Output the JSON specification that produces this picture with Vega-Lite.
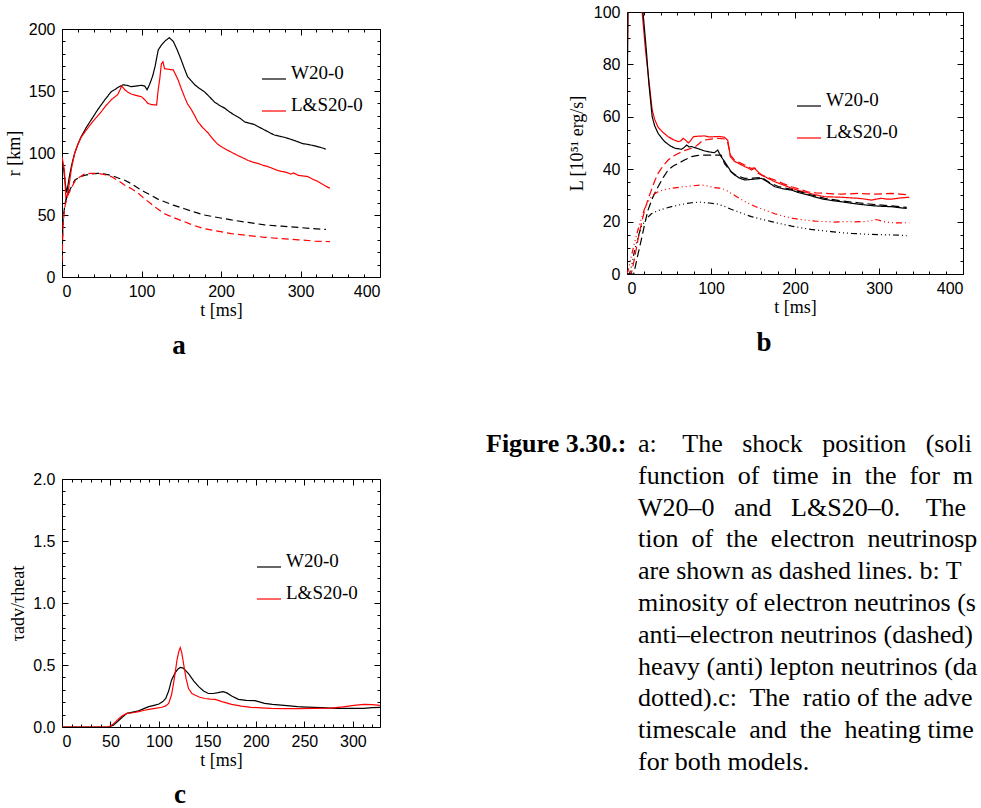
{
  "$schema": "https://vega.github.io/schema/vega-lite/v6.json",
  "padding": {"left": 5, "top": 4, "right": 0, "bottom": 0},
  "background": "white",
  "datasets": {
    "a": [
      {"t":0,"r":90,"model":"W20-0","quantity":"shock"},{"t":2,"r":88,"model":"W20-0","quantity":"shock"},{"t":4,"r":76,"model":"W20-0","quantity":"shock"},{"t":6,"r":68,"model":"W20-0","quantity":"shock"},{"t":9,"r":80,"model":"W20-0","quantity":"shock"},{"t":12,"r":90,"model":"W20-0","quantity":"shock"},{"t":16,"r":100,"model":"W20-0","quantity":"shock"},{"t":20,"r":107,"model":"W20-0","quantity":"shock"},{"t":24,"r":113,"model":"W20-0","quantity":"shock"},{"t":30,"r":120,"model":"W20-0","quantity":"shock"},{"t":37,"r":127,"model":"W20-0","quantity":"shock"},{"t":45,"r":135,"model":"W20-0","quantity":"shock"},{"t":54,"r":143,"model":"W20-0","quantity":"shock"},{"t":62,"r":149.5,"model":"W20-0","quantity":"shock"},{"t":66,"r":151,"model":"W20-0","quantity":"shock"},{"t":72,"r":153.5,"model":"W20-0","quantity":"shock"},{"t":77,"r":155,"model":"W20-0","quantity":"shock"},{"t":82,"r":154.5,"model":"W20-0","quantity":"shock"},{"t":87,"r":153.5,"model":"W20-0","quantity":"shock"},{"t":93,"r":154,"model":"W20-0","quantity":"shock"},{"t":100,"r":154.6,"model":"W20-0","quantity":"shock"},{"t":104,"r":154,"model":"W20-0","quantity":"shock"},{"t":107,"r":151,"model":"W20-0","quantity":"shock"},{"t":110,"r":155,"model":"W20-0","quantity":"shock"},{"t":114,"r":162,"model":"W20-0","quantity":"shock"},{"t":117,"r":169.6,"model":"W20-0","quantity":"shock"},{"t":121,"r":183,"model":"W20-0","quantity":"shock"},{"t":125,"r":187,"model":"W20-0","quantity":"shock"},{"t":129,"r":190,"model":"W20-0","quantity":"shock"},{"t":135,"r":193,"model":"W20-0","quantity":"shock"},{"t":140,"r":190,"model":"W20-0","quantity":"shock"},{"t":145,"r":183,"model":"W20-0","quantity":"shock"},{"t":150,"r":175,"model":"W20-0","quantity":"shock"},{"t":154,"r":168,"model":"W20-0","quantity":"shock"},{"t":158,"r":161.5,"model":"W20-0","quantity":"shock"},{"t":163,"r":158,"model":"W20-0","quantity":"shock"},{"t":167,"r":155,"model":"W20-0","quantity":"shock"},{"t":173,"r":152,"model":"W20-0","quantity":"shock"},{"t":179,"r":149.5,"model":"W20-0","quantity":"shock"},{"t":186,"r":145,"model":"W20-0","quantity":"shock"},{"t":192,"r":141,"model":"W20-0","quantity":"shock"},{"t":198,"r":138.5,"model":"W20-0","quantity":"shock"},{"t":205,"r":136,"model":"W20-0","quantity":"shock"},{"t":211,"r":133,"model":"W20-0","quantity":"shock"},{"t":217,"r":130.6,"model":"W20-0","quantity":"shock"},{"t":224,"r":128,"model":"W20-0","quantity":"shock"},{"t":230,"r":125,"model":"W20-0","quantity":"shock"},{"t":236,"r":124,"model":"W20-0","quantity":"shock"},{"t":242,"r":123,"model":"W20-0","quantity":"shock"},{"t":249,"r":120.5,"model":"W20-0","quantity":"shock"},{"t":255,"r":118.5,"model":"W20-0","quantity":"shock"},{"t":261,"r":116.5,"model":"W20-0","quantity":"shock"},{"t":267,"r":114.5,"model":"W20-0","quantity":"shock"},{"t":274,"r":113.5,"model":"W20-0","quantity":"shock"},{"t":280,"r":112.6,"model":"W20-0","quantity":"shock"},{"t":288,"r":111,"model":"W20-0","quantity":"shock"},{"t":297,"r":109,"model":"W20-0","quantity":"shock"},{"t":303,"r":107.5,"model":"W20-0","quantity":"shock"},{"t":309,"r":107,"model":"W20-0","quantity":"shock"},{"t":316,"r":106,"model":"W20-0","quantity":"shock"},{"t":322,"r":105,"model":"W20-0","quantity":"shock"},{"t":328,"r":104,"model":"W20-0","quantity":"shock"},{"t":332,"r":103,"model":"W20-0","quantity":"shock"},
      {"t":0,"r":97,"model":"L&S20-0","quantity":"shock"},{"t":2,"r":90,"model":"L&S20-0","quantity":"shock"},{"t":3,"r":86,"model":"L&S20-0","quantity":"shock"},{"t":5,"r":62,"model":"L&S20-0","quantity":"shock"},{"t":8,"r":70,"model":"L&S20-0","quantity":"shock"},{"t":12,"r":88,"model":"L&S20-0","quantity":"shock"},{"t":16,"r":100,"model":"L&S20-0","quantity":"shock"},{"t":20,"r":107,"model":"L&S20-0","quantity":"shock"},{"t":24,"r":112.6,"model":"L&S20-0","quantity":"shock"},{"t":30,"r":118,"model":"L&S20-0","quantity":"shock"},{"t":37,"r":124,"model":"L&S20-0","quantity":"shock"},{"t":43,"r":128.5,"model":"L&S20-0","quantity":"shock"},{"t":49,"r":133,"model":"L&S20-0","quantity":"shock"},{"t":55,"r":138,"model":"L&S20-0","quantity":"shock"},{"t":62,"r":143,"model":"L&S20-0","quantity":"shock"},{"t":66,"r":145,"model":"L&S20-0","quantity":"shock"},{"t":70,"r":147,"model":"L&S20-0","quantity":"shock"},{"t":73,"r":151,"model":"L&S20-0","quantity":"shock"},{"t":75,"r":154,"model":"L&S20-0","quantity":"shock"},{"t":79,"r":151,"model":"L&S20-0","quantity":"shock"},{"t":83,"r":149,"model":"L&S20-0","quantity":"shock"},{"t":87,"r":147.6,"model":"L&S20-0","quantity":"shock"},{"t":93,"r":146.5,"model":"L&S20-0","quantity":"shock"},{"t":100,"r":145.4,"model":"L&S20-0","quantity":"shock"},{"t":104,"r":143,"model":"L&S20-0","quantity":"shock"},{"t":108,"r":140,"model":"L&S20-0","quantity":"shock"},{"t":113,"r":139,"model":"L&S20-0","quantity":"shock"},{"t":119,"r":138.7,"model":"L&S20-0","quantity":"shock"},{"t":121,"r":151,"model":"L&S20-0","quantity":"shock"},{"t":123,"r":160,"model":"L&S20-0","quantity":"shock"},{"t":125,"r":172,"model":"L&S20-0","quantity":"shock"},{"t":127,"r":173.6,"model":"L&S20-0","quantity":"shock"},{"t":129,"r":168,"model":"L&S20-0","quantity":"shock"},{"t":134,"r":167.5,"model":"L&S20-0","quantity":"shock"},{"t":140,"r":167,"model":"L&S20-0","quantity":"shock"},{"t":143,"r":163,"model":"L&S20-0","quantity":"shock"},{"t":146,"r":159,"model":"L&S20-0","quantity":"shock"},{"t":150,"r":152,"model":"L&S20-0","quantity":"shock"},{"t":154,"r":145.4,"model":"L&S20-0","quantity":"shock"},{"t":158,"r":139.5,"model":"L&S20-0","quantity":"shock"},{"t":163,"r":134.7,"model":"L&S20-0","quantity":"shock"},{"t":167,"r":130,"model":"L&S20-0","quantity":"shock"},{"t":171,"r":125,"model":"L&S20-0","quantity":"shock"},{"t":177,"r":120.5,"model":"L&S20-0","quantity":"shock"},{"t":184,"r":116,"model":"L&S20-0","quantity":"shock"},{"t":190,"r":111,"model":"L&S20-0","quantity":"shock"},{"t":196,"r":107,"model":"L&S20-0","quantity":"shock"},{"t":202,"r":104.5,"model":"L&S20-0","quantity":"shock"},{"t":209,"r":102,"model":"L&S20-0","quantity":"shock"},{"t":215,"r":100,"model":"L&S20-0","quantity":"shock"},{"t":221,"r":98,"model":"L&S20-0","quantity":"shock"},{"t":228,"r":96,"model":"L&S20-0","quantity":"shock"},{"t":234,"r":94,"model":"L&S20-0","quantity":"shock"},{"t":240,"r":92.7,"model":"L&S20-0","quantity":"shock"},{"t":246,"r":91.7,"model":"L&S20-0","quantity":"shock"},{"t":252,"r":90.3,"model":"L&S20-0","quantity":"shock"},{"t":259,"r":89,"model":"L&S20-0","quantity":"shock"},{"t":265,"r":87.5,"model":"L&S20-0","quantity":"shock"},{"t":272,"r":85.7,"model":"L&S20-0","quantity":"shock"},{"t":278,"r":85,"model":"L&S20-0","quantity":"shock"},{"t":284,"r":84,"model":"L&S20-0","quantity":"shock"},{"t":288,"r":83,"model":"L&S20-0","quantity":"shock"},{"t":291,"r":84,"model":"L&S20-0","quantity":"shock"},{"t":297,"r":82,"model":"L&S20-0","quantity":"shock"},{"t":303,"r":81.5,"model":"L&S20-0","quantity":"shock"},{"t":309,"r":81,"model":"L&S20-0","quantity":"shock"},{"t":315,"r":79,"model":"L&S20-0","quantity":"shock"},{"t":322,"r":77,"model":"L&S20-0","quantity":"shock"},{"t":330,"r":74,"model":"L&S20-0","quantity":"shock"},{"t":337,"r":71.5,"model":"L&S20-0","quantity":"shock"},
      {"t":0,"r":15,"model":"W20-0","quantity":"neutrinosphere"},{"t":1.5,"r":48,"model":"W20-0","quantity":"neutrinosphere"},{"t":4,"r":60,"model":"W20-0","quantity":"neutrinosphere"},{"t":7.5,"r":67,"model":"W20-0","quantity":"neutrinosphere"},{"t":12,"r":73,"model":"W20-0","quantity":"neutrinosphere"},{"t":16,"r":78,"model":"W20-0","quantity":"neutrinosphere"},{"t":22,"r":80.5,"model":"W20-0","quantity":"neutrinosphere"},{"t":28,"r":82,"model":"W20-0","quantity":"neutrinosphere"},{"t":36,"r":83,"model":"W20-0","quantity":"neutrinosphere"},{"t":45,"r":83.6,"model":"W20-0","quantity":"neutrinosphere"},{"t":54,"r":83,"model":"W20-0","quantity":"neutrinosphere"},{"t":62,"r":82,"model":"W20-0","quantity":"neutrinosphere"},{"t":70,"r":80,"model":"W20-0","quantity":"neutrinosphere"},{"t":79,"r":78,"model":"W20-0","quantity":"neutrinosphere"},{"t":88,"r":75,"model":"W20-0","quantity":"neutrinosphere"},{"t":96,"r":71.5,"model":"W20-0","quantity":"neutrinosphere"},{"t":104,"r":68.5,"model":"W20-0","quantity":"neutrinosphere"},{"t":112,"r":66,"model":"W20-0","quantity":"neutrinosphere"},{"t":120,"r":63,"model":"W20-0","quantity":"neutrinosphere"},{"t":129,"r":60.7,"model":"W20-0","quantity":"neutrinosphere"},{"t":140,"r":58,"model":"W20-0","quantity":"neutrinosphere"},{"t":154,"r":55,"model":"W20-0","quantity":"neutrinosphere"},{"t":166,"r":52.5,"model":"W20-0","quantity":"neutrinosphere"},{"t":179,"r":50,"model":"W20-0","quantity":"neutrinosphere"},{"t":196,"r":48,"model":"W20-0","quantity":"neutrinosphere"},{"t":213,"r":46,"model":"W20-0","quantity":"neutrinosphere"},{"t":234,"r":44,"model":"W20-0","quantity":"neutrinosphere"},{"t":255,"r":42,"model":"W20-0","quantity":"neutrinosphere"},{"t":276,"r":41,"model":"W20-0","quantity":"neutrinosphere"},{"t":297,"r":40,"model":"W20-0","quantity":"neutrinosphere"},{"t":315,"r":39,"model":"W20-0","quantity":"neutrinosphere"},{"t":332,"r":38.4,"model":"W20-0","quantity":"neutrinosphere"},
      {"t":0,"r":12,"model":"L&S20-0","quantity":"neutrinosphere"},{"t":1.5,"r":44,"model":"L&S20-0","quantity":"neutrinosphere"},{"t":4,"r":58,"model":"L&S20-0","quantity":"neutrinosphere"},{"t":7.5,"r":66,"model":"L&S20-0","quantity":"neutrinosphere"},{"t":12,"r":72,"model":"L&S20-0","quantity":"neutrinosphere"},{"t":16,"r":77,"model":"L&S20-0","quantity":"neutrinosphere"},{"t":22,"r":80.5,"model":"L&S20-0","quantity":"neutrinosphere"},{"t":28,"r":83,"model":"L&S20-0","quantity":"neutrinosphere"},{"t":36,"r":83.5,"model":"L&S20-0","quantity":"neutrinosphere"},{"t":45,"r":83.6,"model":"L&S20-0","quantity":"neutrinosphere"},{"t":54,"r":82.5,"model":"L&S20-0","quantity":"neutrinosphere"},{"t":62,"r":81,"model":"L&S20-0","quantity":"neutrinosphere"},{"t":70,"r":78,"model":"L&S20-0","quantity":"neutrinosphere"},{"t":79,"r":74,"model":"L&S20-0","quantity":"neutrinosphere"},{"t":88,"r":71,"model":"L&S20-0","quantity":"neutrinosphere"},{"t":96,"r":67.5,"model":"L&S20-0","quantity":"neutrinosphere"},{"t":104,"r":63,"model":"L&S20-0","quantity":"neutrinosphere"},{"t":112,"r":59,"model":"L&S20-0","quantity":"neutrinosphere"},{"t":120,"r":55,"model":"L&S20-0","quantity":"neutrinosphere"},{"t":129,"r":51,"model":"L&S20-0","quantity":"neutrinosphere"},{"t":140,"r":48,"model":"L&S20-0","quantity":"neutrinosphere"},{"t":154,"r":44.6,"model":"L&S20-0","quantity":"neutrinosphere"},{"t":166,"r":41.5,"model":"L&S20-0","quantity":"neutrinosphere"},{"t":179,"r":39,"model":"L&S20-0","quantity":"neutrinosphere"},{"t":196,"r":37,"model":"L&S20-0","quantity":"neutrinosphere"},{"t":213,"r":35,"model":"L&S20-0","quantity":"neutrinosphere"},{"t":234,"r":33.5,"model":"L&S20-0","quantity":"neutrinosphere"},{"t":255,"r":32,"model":"L&S20-0","quantity":"neutrinosphere"},{"t":276,"r":31,"model":"L&S20-0","quantity":"neutrinosphere"},{"t":297,"r":30,"model":"L&S20-0","quantity":"neutrinosphere"},{"t":318,"r":29,"model":"L&S20-0","quantity":"neutrinosphere"},{"t":337,"r":28.5,"model":"L&S20-0","quantity":"neutrinosphere"}
    ],
    "b": [
      {"t":0,"L":68,"model":"L&S20-0","flavor":"nue"},{"t":1,"L":100,"model":"L&S20-0","flavor":"nue"},{"t":2,"L":140,"model":"L&S20-0","flavor":"nue"},{"t":4,"L":180,"model":"L&S20-0","flavor":"nue"},{"t":8,"L":170,"model":"L&S20-0","flavor":"nue"},{"t":12,"L":135,"model":"L&S20-0","flavor":"nue"},{"t":15,"L":112,"model":"L&S20-0","flavor":"nue"},{"t":18,"L":100,"model":"L&S20-0","flavor":"nue"},{"t":22,"L":85.5,"model":"L&S20-0","flavor":"nue"},{"t":26,"L":74,"model":"L&S20-0","flavor":"nue"},{"t":30,"L":62.6,"model":"L&S20-0","flavor":"nue"},{"t":33,"L":59,"model":"L&S20-0","flavor":"nue"},{"t":37,"L":56,"model":"L&S20-0","flavor":"nue"},{"t":43,"L":54,"model":"L&S20-0","flavor":"nue"},{"t":49,"L":52.4,"model":"L&S20-0","flavor":"nue"},{"t":55,"L":51.3,"model":"L&S20-0","flavor":"nue"},{"t":61,"L":50.5,"model":"L&S20-0","flavor":"nue"},{"t":64,"L":50.8,"model":"L&S20-0","flavor":"nue"},{"t":67,"L":51.8,"model":"L&S20-0","flavor":"nue"},{"t":70,"L":51,"model":"L&S20-0","flavor":"nue"},{"t":73,"L":50,"model":"L&S20-0","flavor":"nue"},{"t":76,"L":51,"model":"L&S20-0","flavor":"nue"},{"t":79,"L":52.4,"model":"L&S20-0","flavor":"nue"},{"t":85,"L":52.6,"model":"L&S20-0","flavor":"nue"},{"t":92,"L":52.7,"model":"L&S20-0","flavor":"nue"},{"t":98,"L":52.3,"model":"L&S20-0","flavor":"nue"},{"t":104,"L":52.4,"model":"L&S20-0","flavor":"nue"},{"t":110,"L":52.5,"model":"L&S20-0","flavor":"nue"},{"t":116,"L":52.2,"model":"L&S20-0","flavor":"nue"},{"t":120,"L":51,"model":"L&S20-0","flavor":"nue"},{"t":122,"L":47,"model":"L&S20-0","flavor":"nue"},{"t":123,"L":44.8,"model":"L&S20-0","flavor":"nue"},{"t":128,"L":43,"model":"L&S20-0","flavor":"nue"},{"t":134,"L":42,"model":"L&S20-0","flavor":"nue"},{"t":140,"L":41,"model":"L&S20-0","flavor":"nue"},{"t":144,"L":40.5,"model":"L&S20-0","flavor":"nue"},{"t":148,"L":39.7,"model":"L&S20-0","flavor":"nue"},{"t":152,"L":40.3,"model":"L&S20-0","flavor":"nue"},{"t":156,"L":39,"model":"L&S20-0","flavor":"nue"},{"t":160,"L":37.8,"model":"L&S20-0","flavor":"nue"},{"t":168,"L":36.5,"model":"L&S20-0","flavor":"nue"},{"t":176,"L":35.2,"model":"L&S20-0","flavor":"nue"},{"t":186,"L":34,"model":"L&S20-0","flavor":"nue"},{"t":196,"L":32.7,"model":"L&S20-0","flavor":"nue"},{"t":205,"L":31.8,"model":"L&S20-0","flavor":"nue"},{"t":215,"L":31,"model":"L&S20-0","flavor":"nue"},{"t":225,"L":30.2,"model":"L&S20-0","flavor":"nue"},{"t":235,"L":29.5,"model":"L&S20-0","flavor":"nue"},{"t":245,"L":29.4,"model":"L&S20-0","flavor":"nue"},{"t":255,"L":29.3,"model":"L&S20-0","flavor":"nue"},{"t":265,"L":29.1,"model":"L&S20-0","flavor":"nue"},{"t":275,"L":28.9,"model":"L&S20-0","flavor":"nue"},{"t":283,"L":28.6,"model":"L&S20-0","flavor":"nue"},{"t":291,"L":28.2,"model":"L&S20-0","flavor":"nue"},{"t":297,"L":28.6,"model":"L&S20-0","flavor":"nue"},{"t":303,"L":28.9,"model":"L&S20-0","flavor":"nue"},{"t":309,"L":28.6,"model":"L&S20-0","flavor":"nue"},{"t":315,"L":28.6,"model":"L&S20-0","flavor":"nue"},{"t":325,"L":29,"model":"L&S20-0","flavor":"nue"},{"t":336,"L":29.3,"model":"L&S20-0","flavor":"nue"},
      {"t":0,"L":60,"model":"W20-0","flavor":"nue"},{"t":1,"L":95,"model":"W20-0","flavor":"nue"},{"t":2,"L":130,"model":"W20-0","flavor":"nue"},{"t":4,"L":170,"model":"W20-0","flavor":"nue"},{"t":8,"L":165,"model":"W20-0","flavor":"nue"},{"t":12,"L":140,"model":"W20-0","flavor":"nue"},{"t":16,"L":115,"model":"W20-0","flavor":"nue"},{"t":19,"L":100,"model":"W20-0","flavor":"nue"},{"t":23,"L":85.5,"model":"W20-0","flavor":"nue"},{"t":26,"L":72.8,"model":"W20-0","flavor":"nue"},{"t":30,"L":60,"model":"W20-0","flavor":"nue"},{"t":33,"L":56.5,"model":"W20-0","flavor":"nue"},{"t":37,"L":53.7,"model":"W20-0","flavor":"nue"},{"t":41,"L":52,"model":"W20-0","flavor":"nue"},{"t":45,"L":50.5,"model":"W20-0","flavor":"nue"},{"t":51,"L":49,"model":"W20-0","flavor":"nue"},{"t":57,"L":48,"model":"W20-0","flavor":"nue"},{"t":65,"L":47.6,"model":"W20-0","flavor":"nue"},{"t":68,"L":48.3,"model":"W20-0","flavor":"nue"},{"t":71,"L":49.2,"model":"W20-0","flavor":"nue"},{"t":74,"L":48.5,"model":"W20-0","flavor":"nue"},{"t":77,"L":48.6,"model":"W20-0","flavor":"nue"},{"t":85,"L":47.8,"model":"W20-0","flavor":"nue"},{"t":92,"L":47,"model":"W20-0","flavor":"nue"},{"t":98,"L":46.6,"model":"W20-0","flavor":"nue"},{"t":104,"L":46.3,"model":"W20-0","flavor":"nue"},{"t":106,"L":46.8,"model":"W20-0","flavor":"nue"},{"t":108,"L":47.3,"model":"W20-0","flavor":"nue"},{"t":110,"L":46,"model":"W20-0","flavor":"nue"},{"t":112,"L":44.8,"model":"W20-0","flavor":"nue"},{"t":116,"L":43,"model":"W20-0","flavor":"nue"},{"t":120,"L":41,"model":"W20-0","flavor":"nue"},{"t":124,"L":39,"model":"W20-0","flavor":"nue"},{"t":128,"L":37.8,"model":"W20-0","flavor":"nue"},{"t":134,"L":36.6,"model":"W20-0","flavor":"nue"},{"t":140,"L":35.9,"model":"W20-0","flavor":"nue"},{"t":148,"L":36.1,"model":"W20-0","flavor":"nue"},{"t":154,"L":36.3,"model":"W20-0","flavor":"nue"},{"t":160,"L":36.5,"model":"W20-0","flavor":"nue"},{"t":168,"L":35,"model":"W20-0","flavor":"nue"},{"t":176,"L":33.3,"model":"W20-0","flavor":"nue"},{"t":186,"L":32.5,"model":"W20-0","flavor":"nue"},{"t":196,"L":32,"model":"W20-0","flavor":"nue"},{"t":205,"L":31,"model":"W20-0","flavor":"nue"},{"t":215,"L":30.2,"model":"W20-0","flavor":"nue"},{"t":225,"L":29.3,"model":"W20-0","flavor":"nue"},{"t":235,"L":28.5,"model":"W20-0","flavor":"nue"},{"t":245,"L":28,"model":"W20-0","flavor":"nue"},{"t":255,"L":27.6,"model":"W20-0","flavor":"nue"},{"t":265,"L":27.1,"model":"W20-0","flavor":"nue"},{"t":275,"L":26.7,"model":"W20-0","flavor":"nue"},{"t":285,"L":26.3,"model":"W20-0","flavor":"nue"},{"t":295,"L":26,"model":"W20-0","flavor":"nue"},{"t":305,"L":25.8,"model":"W20-0","flavor":"nue"},{"t":315,"L":25.7,"model":"W20-0","flavor":"nue"},{"t":325,"L":25.3,"model":"W20-0","flavor":"nue"},{"t":333,"L":25,"model":"W20-0","flavor":"nue"},
      {"t":0,"L":0,"model":"L&S20-0","flavor":"anue"},{"t":5,"L":0,"model":"L&S20-0","flavor":"anue"},{"t":9,"L":6,"model":"L&S20-0","flavor":"anue"},{"t":13,"L":13,"model":"L&S20-0","flavor":"anue"},{"t":17,"L":19,"model":"L&S20-0","flavor":"anue"},{"t":21,"L":24.4,"model":"L&S20-0","flavor":"anue"},{"t":25,"L":28.5,"model":"L&S20-0","flavor":"anue"},{"t":29,"L":32,"model":"L&S20-0","flavor":"anue"},{"t":33,"L":35.5,"model":"L&S20-0","flavor":"anue"},{"t":37,"L":38.4,"model":"L&S20-0","flavor":"anue"},{"t":43,"L":41.3,"model":"L&S20-0","flavor":"anue"},{"t":49,"L":43.5,"model":"L&S20-0","flavor":"anue"},{"t":55,"L":45,"model":"L&S20-0","flavor":"anue"},{"t":61,"L":46,"model":"L&S20-0","flavor":"anue"},{"t":69,"L":47.2,"model":"L&S20-0","flavor":"anue"},{"t":77,"L":48,"model":"L&S20-0","flavor":"anue"},{"t":81,"L":48.5,"model":"L&S20-0","flavor":"anue"},{"t":85,"L":49.5,"model":"L&S20-0","flavor":"anue"},{"t":90,"L":51,"model":"L&S20-0","flavor":"anue"},{"t":100,"L":51.5,"model":"L&S20-0","flavor":"anue"},{"t":110,"L":51.8,"model":"L&S20-0","flavor":"anue"},{"t":117,"L":51.5,"model":"L&S20-0","flavor":"anue"},{"t":120,"L":50,"model":"L&S20-0","flavor":"anue"},{"t":123,"L":45.5,"model":"L&S20-0","flavor":"anue"},{"t":128,"L":43.5,"model":"L&S20-0","flavor":"anue"},{"t":134,"L":42.5,"model":"L&S20-0","flavor":"anue"},{"t":140,"L":41.6,"model":"L&S20-0","flavor":"anue"},{"t":148,"L":40.3,"model":"L&S20-0","flavor":"anue"},{"t":152,"L":40.5,"model":"L&S20-0","flavor":"anue"},{"t":156,"L":38.4,"model":"L&S20-0","flavor":"anue"},{"t":166,"L":37,"model":"L&S20-0","flavor":"anue"},{"t":176,"L":35.9,"model":"L&S20-0","flavor":"anue"},{"t":186,"L":34.5,"model":"L&S20-0","flavor":"anue"},{"t":196,"L":33.3,"model":"L&S20-0","flavor":"anue"},{"t":206,"L":32.3,"model":"L&S20-0","flavor":"anue"},{"t":215,"L":31.4,"model":"L&S20-0","flavor":"anue"},{"t":225,"L":31,"model":"L&S20-0","flavor":"anue"},{"t":235,"L":30.8,"model":"L&S20-0","flavor":"anue"},{"t":245,"L":30.6,"model":"L&S20-0","flavor":"anue"},{"t":255,"L":30.5,"model":"L&S20-0","flavor":"anue"},{"t":265,"L":30.6,"model":"L&S20-0","flavor":"anue"},{"t":275,"L":30.8,"model":"L&S20-0","flavor":"anue"},{"t":285,"L":30.6,"model":"L&S20-0","flavor":"anue"},{"t":295,"L":30.5,"model":"L&S20-0","flavor":"anue"},{"t":305,"L":30.6,"model":"L&S20-0","flavor":"anue"},{"t":315,"L":30.8,"model":"L&S20-0","flavor":"anue"},{"t":325,"L":30.5,"model":"L&S20-0","flavor":"anue"},{"t":336,"L":30.2,"model":"L&S20-0","flavor":"anue"},
      {"t":0,"L":0,"model":"W20-0","flavor":"anue"},{"t":8,"L":0,"model":"W20-0","flavor":"anue"},{"t":12,"L":6,"model":"W20-0","flavor":"anue"},{"t":17,"L":13,"model":"W20-0","flavor":"anue"},{"t":21,"L":19,"model":"W20-0","flavor":"anue"},{"t":25,"L":24.4,"model":"W20-0","flavor":"anue"},{"t":31,"L":29.5,"model":"W20-0","flavor":"anue"},{"t":37,"L":33.3,"model":"W20-0","flavor":"anue"},{"t":43,"L":36.8,"model":"W20-0","flavor":"anue"},{"t":49,"L":39.7,"model":"W20-0","flavor":"anue"},{"t":55,"L":41.2,"model":"W20-0","flavor":"anue"},{"t":61,"L":42.2,"model":"W20-0","flavor":"anue"},{"t":69,"L":43.6,"model":"W20-0","flavor":"anue"},{"t":77,"L":44.8,"model":"W20-0","flavor":"anue"},{"t":83,"L":45.2,"model":"W20-0","flavor":"anue"},{"t":88,"L":45.4,"model":"W20-0","flavor":"anue"},{"t":96,"L":45.4,"model":"W20-0","flavor":"anue"},{"t":104,"L":45.4,"model":"W20-0","flavor":"anue"},{"t":112,"L":45.4,"model":"W20-0","flavor":"anue"},{"t":114,"L":44,"model":"W20-0","flavor":"anue"},{"t":116,"L":42.2,"model":"W20-0","flavor":"anue"},{"t":120,"L":40.5,"model":"W20-0","flavor":"anue"},{"t":124,"L":39,"model":"W20-0","flavor":"anue"},{"t":130,"L":37.6,"model":"W20-0","flavor":"anue"},{"t":140,"L":36.5,"model":"W20-0","flavor":"anue"},{"t":150,"L":36.6,"model":"W20-0","flavor":"anue"},{"t":160,"L":36.9,"model":"W20-0","flavor":"anue"},{"t":170,"L":34.8,"model":"W20-0","flavor":"anue"},{"t":180,"L":33.4,"model":"W20-0","flavor":"anue"},{"t":196,"L":32.3,"model":"W20-0","flavor":"anue"},{"t":215,"L":30.5,"model":"W20-0","flavor":"anue"},{"t":235,"L":28.9,"model":"W20-0","flavor":"anue"},{"t":255,"L":27.9,"model":"W20-0","flavor":"anue"},{"t":275,"L":27.2,"model":"W20-0","flavor":"anue"},{"t":295,"L":26.5,"model":"W20-0","flavor":"anue"},{"t":315,"L":26,"model":"W20-0","flavor":"anue"},{"t":333,"L":25.4,"model":"W20-0","flavor":"anue"},
      {"t":0,"L":0,"model":"L&S20-0","flavor":"nux"},{"t":2,"L":2,"model":"L&S20-0","flavor":"nux"},{"t":5,"L":6.6,"model":"L&S20-0","flavor":"nux"},{"t":9,"L":12,"model":"L&S20-0","flavor":"nux"},{"t":13,"L":16.8,"model":"L&S20-0","flavor":"nux"},{"t":17,"L":21,"model":"L&S20-0","flavor":"nux"},{"t":21,"L":25,"model":"L&S20-0","flavor":"nux"},{"t":25,"L":27.5,"model":"L&S20-0","flavor":"nux"},{"t":29,"L":29.5,"model":"L&S20-0","flavor":"nux"},{"t":33,"L":30.6,"model":"L&S20-0","flavor":"nux"},{"t":37,"L":31.4,"model":"L&S20-0","flavor":"nux"},{"t":45,"L":32.2,"model":"L&S20-0","flavor":"nux"},{"t":53,"L":32.7,"model":"L&S20-0","flavor":"nux"},{"t":65,"L":33.2,"model":"L&S20-0","flavor":"nux"},{"t":77,"L":33.6,"model":"L&S20-0","flavor":"nux"},{"t":88,"L":34,"model":"L&S20-0","flavor":"nux"},{"t":96,"L":33.6,"model":"L&S20-0","flavor":"nux"},{"t":104,"L":33,"model":"L&S20-0","flavor":"nux"},{"t":110,"L":32.8,"model":"L&S20-0","flavor":"nux"},{"t":116,"L":32.3,"model":"L&S20-0","flavor":"nux"},{"t":120,"L":31.6,"model":"L&S20-0","flavor":"nux"},{"t":124,"L":30.8,"model":"L&S20-0","flavor":"nux"},{"t":134,"L":28.8,"model":"L&S20-0","flavor":"nux"},{"t":144,"L":27,"model":"L&S20-0","flavor":"nux"},{"t":154,"L":25.6,"model":"L&S20-0","flavor":"nux"},{"t":164,"L":24.4,"model":"L&S20-0","flavor":"nux"},{"t":176,"L":23,"model":"L&S20-0","flavor":"nux"},{"t":188,"L":21.9,"model":"L&S20-0","flavor":"nux"},{"t":200,"L":21.1,"model":"L&S20-0","flavor":"nux"},{"t":212,"L":20.6,"model":"L&S20-0","flavor":"nux"},{"t":224,"L":20.2,"model":"L&S20-0","flavor":"nux"},{"t":235,"L":20,"model":"L&S20-0","flavor":"nux"},{"t":247,"L":19.8,"model":"L&S20-0","flavor":"nux"},{"t":259,"L":20,"model":"L&S20-0","flavor":"nux"},{"t":271,"L":19.9,"model":"L&S20-0","flavor":"nux"},{"t":283,"L":20,"model":"L&S20-0","flavor":"nux"},{"t":291,"L":20.3,"model":"L&S20-0","flavor":"nux"},{"t":296,"L":20.8,"model":"L&S20-0","flavor":"nux"},{"t":299,"L":20.6,"model":"L&S20-0","flavor":"nux"},{"t":305,"L":20,"model":"L&S20-0","flavor":"nux"},{"t":315,"L":19.6,"model":"L&S20-0","flavor":"nux"},{"t":325,"L":19.5,"model":"L&S20-0","flavor":"nux"},{"t":336,"L":19.6,"model":"L&S20-0","flavor":"nux"},
      {"t":0,"L":0,"model":"W20-0","flavor":"nux"},{"t":3,"L":0,"model":"W20-0","flavor":"nux"},{"t":6,"L":4,"model":"W20-0","flavor":"nux"},{"t":9,"L":9,"model":"W20-0","flavor":"nux"},{"t":13,"L":14,"model":"W20-0","flavor":"nux"},{"t":17,"L":18,"model":"W20-0","flavor":"nux"},{"t":23,"L":21,"model":"W20-0","flavor":"nux"},{"t":29,"L":23,"model":"W20-0","flavor":"nux"},{"t":37,"L":24.2,"model":"W20-0","flavor":"nux"},{"t":45,"L":25,"model":"W20-0","flavor":"nux"},{"t":53,"L":25.7,"model":"W20-0","flavor":"nux"},{"t":61,"L":26.3,"model":"W20-0","flavor":"nux"},{"t":69,"L":26.8,"model":"W20-0","flavor":"nux"},{"t":77,"L":27.2,"model":"W20-0","flavor":"nux"},{"t":88,"L":27.4,"model":"W20-0","flavor":"nux"},{"t":98,"L":27.1,"model":"W20-0","flavor":"nux"},{"t":108,"L":26.7,"model":"W20-0","flavor":"nux"},{"t":116,"L":25.8,"model":"W20-0","flavor":"nux"},{"t":124,"L":24.7,"model":"W20-0","flavor":"nux"},{"t":136,"L":23.3,"model":"W20-0","flavor":"nux"},{"t":148,"L":21.9,"model":"W20-0","flavor":"nux"},{"t":160,"L":20.9,"model":"W20-0","flavor":"nux"},{"t":172,"L":20,"model":"W20-0","flavor":"nux"},{"t":184,"L":19.1,"model":"W20-0","flavor":"nux"},{"t":196,"L":18.3,"model":"W20-0","flavor":"nux"},{"t":208,"L":17.6,"model":"W20-0","flavor":"nux"},{"t":219,"L":17,"model":"W20-0","flavor":"nux"},{"t":231,"L":16.6,"model":"W20-0","flavor":"nux"},{"t":243,"L":16.2,"model":"W20-0","flavor":"nux"},{"t":255,"L":15.8,"model":"W20-0","flavor":"nux"},{"t":267,"L":15.5,"model":"W20-0","flavor":"nux"},{"t":279,"L":15.3,"model":"W20-0","flavor":"nux"},{"t":291,"L":15.1,"model":"W20-0","flavor":"nux"},{"t":303,"L":15,"model":"W20-0","flavor":"nux"},{"t":315,"L":14.9,"model":"W20-0","flavor":"nux"},{"t":325,"L":14.8,"model":"W20-0","flavor":"nux"},{"t":333,"L":14.6,"model":"W20-0","flavor":"nux"}
    ],
    "c": [
      {"t":0,"ratio":0,"model":"W20-0"},{"t":48,"ratio":0,"model":"W20-0"},{"t":53,"ratio":0.015,"model":"W20-0"},{"t":59,"ratio":0.056,"model":"W20-0"},{"t":63,"ratio":0.085,"model":"W20-0"},{"t":67,"ratio":0.11,"model":"W20-0"},{"t":73,"ratio":0.12,"model":"W20-0"},{"t":79,"ratio":0.13,"model":"W20-0"},{"t":85,"ratio":0.15,"model":"W20-0"},{"t":89.5,"ratio":0.164,"model":"W20-0"},{"t":95,"ratio":0.175,"model":"W20-0"},{"t":100,"ratio":0.185,"model":"W20-0"},{"t":104,"ratio":0.205,"model":"W20-0"},{"t":107,"ratio":0.23,"model":"W20-0"},{"t":110,"ratio":0.29,"model":"W20-0"},{"t":113,"ratio":0.38,"model":"W20-0"},{"t":117,"ratio":0.44,"model":"W20-0"},{"t":120,"ratio":0.47,"model":"W20-0"},{"t":122,"ratio":0.48,"model":"W20-0"},{"t":125,"ratio":0.475,"model":"W20-0"},{"t":130.5,"ratio":0.43,"model":"W20-0"},{"t":136,"ratio":0.37,"model":"W20-0"},{"t":141,"ratio":0.325,"model":"W20-0"},{"t":146,"ratio":0.29,"model":"W20-0"},{"t":151,"ratio":0.27,"model":"W20-0"},{"t":156,"ratio":0.27,"model":"W20-0"},{"t":161,"ratio":0.277,"model":"W20-0"},{"t":166,"ratio":0.285,"model":"W20-0"},{"t":170,"ratio":0.275,"model":"W20-0"},{"t":175,"ratio":0.25,"model":"W20-0"},{"t":182,"ratio":0.223,"model":"W20-0"},{"t":190,"ratio":0.215,"model":"W20-0"},{"t":199,"ratio":0.212,"model":"W20-0"},{"t":209,"ratio":0.19,"model":"W20-0"},{"t":217,"ratio":0.182,"model":"W20-0"},{"t":226,"ratio":0.177,"model":"W20-0"},{"t":235,"ratio":0.17,"model":"W20-0"},{"t":243,"ratio":0.164,"model":"W20-0"},{"t":252,"ratio":0.161,"model":"W20-0"},{"t":260,"ratio":0.159,"model":"W20-0"},{"t":268,"ratio":0.156,"model":"W20-0"},{"t":277,"ratio":0.153,"model":"W20-0"},{"t":285,"ratio":0.151,"model":"W20-0"},{"t":294.5,"ratio":0.15,"model":"W20-0"},{"t":303,"ratio":0.15,"model":"W20-0"},{"t":311.6,"ratio":0.15,"model":"W20-0"},{"t":320,"ratio":0.156,"model":"W20-0"},{"t":328,"ratio":0.159,"model":"W20-0"},
      {"t":0,"ratio":0,"model":"L&S20-0"},{"t":48,"ratio":0,"model":"L&S20-0"},{"t":53,"ratio":0.025,"model":"L&S20-0"},{"t":59,"ratio":0.07,"model":"L&S20-0"},{"t":63,"ratio":0.095,"model":"L&S20-0"},{"t":67,"ratio":0.11,"model":"L&S20-0"},{"t":73,"ratio":0.115,"model":"L&S20-0"},{"t":79,"ratio":0.124,"model":"L&S20-0"},{"t":85,"ratio":0.135,"model":"L&S20-0"},{"t":89.5,"ratio":0.142,"model":"L&S20-0"},{"t":96,"ratio":0.15,"model":"L&S20-0"},{"t":103,"ratio":0.159,"model":"L&S20-0"},{"t":107,"ratio":0.17,"model":"L&S20-0"},{"t":110,"ratio":0.19,"model":"L&S20-0"},{"t":113,"ratio":0.26,"model":"L&S20-0"},{"t":115,"ratio":0.35,"model":"L&S20-0"},{"t":117,"ratio":0.45,"model":"L&S20-0"},{"t":118.6,"ratio":0.54,"model":"L&S20-0"},{"t":120.5,"ratio":0.61,"model":"L&S20-0"},{"t":122,"ratio":0.64,"model":"L&S20-0"},{"t":123.5,"ratio":0.6,"model":"L&S20-0"},{"t":125.4,"ratio":0.51,"model":"L&S20-0"},{"t":128,"ratio":0.39,"model":"L&S20-0"},{"t":130.5,"ratio":0.31,"model":"L&S20-0"},{"t":134,"ratio":0.27,"model":"L&S20-0"},{"t":137,"ratio":0.258,"model":"L&S20-0"},{"t":142,"ratio":0.24,"model":"L&S20-0"},{"t":147.6,"ratio":0.23,"model":"L&S20-0"},{"t":153,"ratio":0.225,"model":"L&S20-0"},{"t":158,"ratio":0.223,"model":"L&S20-0"},{"t":165,"ratio":0.205,"model":"L&S20-0"},{"t":175,"ratio":0.183,"model":"L&S20-0"},{"t":185,"ratio":0.168,"model":"L&S20-0"},{"t":195,"ratio":0.159,"model":"L&S20-0"},{"t":205,"ratio":0.154,"model":"L&S20-0"},{"t":216,"ratio":0.15,"model":"L&S20-0"},{"t":230,"ratio":0.148,"model":"L&S20-0"},{"t":243,"ratio":0.148,"model":"L&S20-0"},{"t":260,"ratio":0.15,"model":"L&S20-0"},{"t":277,"ratio":0.153,"model":"L&S20-0"},{"t":290,"ratio":0.163,"model":"L&S20-0"},{"t":301,"ratio":0.175,"model":"L&S20-0"},{"t":311.6,"ratio":0.183,"model":"L&S20-0"},{"t":320,"ratio":0.18,"model":"L&S20-0"},{"t":328,"ratio":0.175,"model":"L&S20-0"}
    ],
    "caption": [
      {"part":"label","line":1,"text":"Figure 3.30.:"},
      {"part":"body","line":1,"text":"a:\u00a0\u00a0\u00a0 The\u00a0\u00a0 shock\u00a0\u00a0 position\u00a0\u00a0 (soli"},
      {"part":"body","line":2,"text":"function\u00a0 of\u00a0 time\u00a0 in\u00a0 the\u00a0 for\u00a0 m"},
      {"part":"body","line":3,"text":"W20–0\u00a0\u00a0 and\u00a0\u00a0 L&S20–0.\u00a0\u00a0\u00a0 The"},
      {"part":"body","line":4,"text":"tion\u00a0 of\u00a0 the\u00a0 electron\u00a0 neutrinosp"},
      {"part":"body","line":5,"text":"are shown as dashed lines. b: T"},
      {"part":"body","line":6,"text":"minosity of electron neutrinos (s"},
      {"part":"body","line":7,"text":"anti–electron neutrinos (dashed)"},
      {"part":"body","line":8,"text":"heavy (anti) lepton neutrinos (da"},
      {"part":"body","line":9,"text":"dotted).c:\u00a0 The\u00a0 ratio of the adve"},
      {"part":"body","line":10,"text":"timescale\u00a0 and\u00a0 the\u00a0 heating time"},
      {"part":"body","line":11,"text":"for both models."}
    ]
  },
  "columns": 2,
  "align": "each",
  "bounds": "flush",
  "spacing": {"row": 202, "column": 247},
  "resolve": {"scale": {"color": "independent", "strokeDash": "independent"}, "legend": {"color": "independent", "strokeDash": "independent"}},
  "concat": [
    {
      "width": 318, "height": 265,
      "data": {"name": "a"},
      "title": {"text": "a", "orient": "bottom", "anchor": "middle", "frame": "group", "dx": -42, "offset": 14, "font": "Liberation Serif", "fontSize": 27, "fontWeight": "bold", "color": "#000000"},
      "layer": [
        {"mark": {"type": "line", "strokeWidth": 1.2, "clip": true},
         "encoding": {
           "x": {"field": "t", "type": "quantitative", "scale": {"domain": [0, 400], "nice": false, "zero": false}, "axis": {"orient": "bottom", "values": [0, 100, 200, 300, 400], "title": "t [ms]", "titlePadding": 2, "labelPadding": 12}},
           "y": {"field": "r", "type": "quantitative", "scale": {"domain": [0, 200], "range": [265, 17], "nice": false, "zero": false}, "axis": {"orient": "left", "values": [0, 50, 100, 150, 200], "title": "r [km]", "titlePadding": 5}},
           "color": {"field": "model", "type": "nominal", "scale": {"domain": ["W20-0", "L&S20-0"], "range": ["#000000", "#ff0000"]}, "legend": {"orient": "none", "legendX": 199, "legendY": 54}},
           "strokeDash": {"field": "quantity", "type": "nominal", "scale": {"domain": ["shock", "neutrinosphere"], "range": [[1, 0], [7, 4]]}, "legend": null}
         }},
        {"mark": {"type": "line", "opacity": 0, "clip": true},
         "encoding": {
           "x": {"field": "t", "type": "quantitative", "axis": {"orient": "top", "offset": -17, "values": [0, 100, 200, 300, 400], "labels": false, "title": null}},
           "y": {"field": "r", "type": "quantitative", "axis": {"orient": "right", "values": [0, 50, 100, 150, 200], "labels": false, "title": null}}
         }},
        {"mark": {"type": "line", "opacity": 0, "clip": true},
         "encoding": {
           "x": {"field": "t", "type": "quantitative", "axis": {"orient": "bottom", "values": [20,40,60,80,120,140,160,180,220,240,260,280,320,340,360,380], "labels": false, "title": null, "domain": false, "tickSize": -3}},
           "y": {"field": "r", "type": "quantitative", "axis": {"orient": "left", "values": [10,20,30,40,60,70,80,90,110,120,130,140,160,170,180,190], "labels": false, "title": null, "domain": false, "tickSize": -3}}
         }},
        {"mark": {"type": "line", "opacity": 0, "clip": true},
         "encoding": {
           "x": {"field": "t", "type": "quantitative", "axis": {"orient": "top", "offset": -17, "values": [20,40,60,80,120,140,160,180,220,240,260,280,320,340,360,380], "labels": false, "title": null, "domain": false, "tickSize": -3}},
           "y": {"field": "r", "type": "quantitative", "axis": {"orient": "right", "values": [10,20,30,40,60,70,80,90,110,120,130,140,160,170,180,190], "labels": false, "title": null, "domain": false, "tickSize": -3}}
         }}
      ],
      "resolve": {"axis": {"x": "independent", "y": "independent"}}
    },
    {
      "width": 336, "height": 262,
      "data": {"name": "b"},
      "title": {"text": "b", "orient": "bottom", "anchor": "middle", "frame": "group", "dx": -31, "offset": 14, "font": "Liberation Serif", "fontSize": 27, "fontWeight": "bold", "color": "#000000"},
      "layer": [
        {"mark": {"type": "line", "strokeWidth": 1.2, "clip": true},
         "encoding": {
           "x": {"field": "t", "type": "quantitative", "scale": {"domain": [0, 400], "nice": false, "zero": false}, "axis": {"orient": "bottom", "values": [0, 100, 200, 300, 400], "title": "t [ms]", "titlePadding": 2, "labelPadding": 12}},
           "y": {"field": "L", "type": "quantitative", "scale": {"domain": [0, 100], "nice": false, "zero": false}, "axis": {"orient": "left", "values": [0, 20, 40, 60, 80, 100], "title": "L [10⁵¹ erg/s]", "titlePadding": 7}},
           "color": {"field": "model", "type": "nominal", "scale": {"domain": ["W20-0", "L&S20-0"], "range": ["#000000", "#ff0000"]}, "legend": {"orient": "none", "legendX": 169, "legendY": 81}},
           "strokeDash": {"field": "flavor", "type": "nominal", "scale": {"domain": ["nue", "anue", "nux"], "range": [[1, 0], [8, 4], [6, 3, 1, 3, 1, 3, 1, 3]]}, "legend": null}
         }},
        {"mark": {"type": "line", "opacity": 0, "clip": true},
         "encoding": {
           "x": {"field": "t", "type": "quantitative", "axis": {"orient": "top", "values": [0, 100, 200, 300, 400], "labels": false, "title": null}},
           "y": {"field": "L", "type": "quantitative", "axis": {"orient": "right", "values": [0, 20, 40, 60, 80, 100], "labels": false, "title": null}}
         }},
        {"mark": {"type": "line", "opacity": 0, "clip": true},
         "encoding": {
           "x": {"field": "t", "type": "quantitative", "axis": {"orient": "bottom", "values": [20,40,60,80,120,140,160,180,220,240,260,280,320,340,360,380], "labels": false, "title": null, "domain": false, "tickSize": -3}},
           "y": {"field": "L", "type": "quantitative", "axis": {"orient": "left", "values": [5,10,15,25,30,35,45,50,55,65,70,75,85,90,95], "labels": false, "title": null, "domain": false, "tickSize": -3}}
         }},
        {"mark": {"type": "line", "opacity": 0, "clip": true},
         "encoding": {
           "x": {"field": "t", "type": "quantitative", "axis": {"orient": "top", "values": [20,40,60,80,120,140,160,180,220,240,260,280,320,340,360,380], "labels": false, "title": null, "domain": false, "tickSize": -3}},
           "y": {"field": "L", "type": "quantitative", "axis": {"orient": "right", "values": [5,10,15,25,30,35,45,50,55,65,70,75,85,90,95], "labels": false, "title": null, "domain": false, "tickSize": -3}}
         }}
      ],
      "resolve": {"axis": {"x": "independent", "y": "independent"}}
    },
    {
      "width": 318, "height": 248,
      "data": {"name": "c"},
      "title": {"text": "c", "orient": "bottom", "anchor": "middle", "frame": "group", "dx": -41, "offset": 13, "font": "Liberation Serif", "fontSize": 27, "fontWeight": "bold", "color": "#000000"},
      "layer": [
        {"mark": {"type": "line", "strokeWidth": 1.2, "clip": true},
         "encoding": {
           "x": {"field": "t", "type": "quantitative", "scale": {"domain": [0, 328], "nice": false, "zero": false}, "axis": {"orient": "bottom", "values": [0, 50, 100, 150, 200, 250, 300], "title": "t [ms]", "titlePadding": 2, "labelPadding": 12}},
           "y": {"field": "ratio", "type": "quantitative", "scale": {"domain": [0, 2], "nice": false, "zero": false}, "axis": {"orient": "left", "values": [0, 0.5, 1, 1.5, 2], "format": ".1f", "title": "τadv/τheat", "titlePadding": 5}},
           "color": {"field": "model", "type": "nominal", "scale": {"domain": ["W20-0", "L&S20-0"], "range": ["#000000", "#ff0000"]}, "legend": {"orient": "none", "legendX": 194, "legendY": 75}}
         }},
        {"mark": {"type": "line", "opacity": 0, "clip": true},
         "encoding": {
           "x": {"field": "t", "type": "quantitative", "axis": {"orient": "top", "values": [0, 50, 100, 150, 200, 250, 300], "labels": false, "title": null}},
           "y": {"field": "ratio", "type": "quantitative", "axis": {"orient": "right", "values": [0, 0.5, 1, 1.5, 2], "labels": false, "title": null}}
         }},
        {"mark": {"type": "line", "opacity": 0, "clip": true},
         "encoding": {
           "x": {"field": "t", "type": "quantitative", "axis": {"orient": "bottom", "values": [10,20,30,40,60,70,80,90,110,120,130,140,160,170,180,190,210,220,230,240,260,270,280,290,310,320], "labels": false, "title": null, "domain": false, "tickSize": -3}},
           "y": {"field": "ratio", "type": "quantitative", "axis": {"orient": "left", "values": [0.1,0.2,0.3,0.4,0.6,0.7,0.8,0.9,1.1,1.2,1.3,1.4,1.6,1.7,1.8,1.9], "labels": false, "title": null, "domain": false, "tickSize": -3}}
         }},
        {"mark": {"type": "line", "opacity": 0, "clip": true},
         "encoding": {
           "x": {"field": "t", "type": "quantitative", "axis": {"orient": "top", "values": [10,20,30,40,60,70,80,90,110,120,130,140,160,170,180,190,210,220,230,240,260,270,280,290,310,320], "labels": false, "title": null, "domain": false, "tickSize": -3}},
           "y": {"field": "ratio", "type": "quantitative", "axis": {"orient": "right", "values": [0.1,0.2,0.3,0.4,0.6,0.7,0.8,0.9,1.1,1.2,1.3,1.4,1.6,1.7,1.8,1.9], "labels": false, "title": null, "domain": false, "tickSize": -3}}
         }}
      ],
      "resolve": {"axis": {"x": "independent", "y": "independent"}}
    },
    {
      "width": 352, "height": 248,
      "data": {"name": "caption"},
      "encoding": {
        "x": {"field": "part", "type": "nominal", "scale": {"domain": ["label", "body"], "range": [-141, 11], "padding": 0}, "axis": null},
        "y": {"field": "line", "type": "quantitative", "scale": {"domain": [1.849, 9.648], "reverse": true, "nice": false, "zero": false}, "axis": null},
        "text": {"field": "text", "type": "nominal"}
      },
      "layer": [
        {"transform": [{"filter": "datum.part === 'label'"}], "mark": {"type": "text", "align": "left", "baseline": "alphabetic", "font": "Liberation Serif", "fontSize": 26, "fontWeight": "bold", "color": "#000000"}},
        {"transform": [{"filter": "datum.part === 'body'"}], "mark": {"type": "text", "align": "left", "baseline": "alphabetic", "font": "Liberation Serif", "fontSize": 26, "color": "#000000"}}
      ]
    }
  ],
  "config": {
    "view": {"stroke": null},
    "axis": {"grid": false, "domainColor": "#000000", "domainWidth": 1, "tickColor": "#000000", "tickWidth": 1, "tickSize": -6, "labelColor": "#000000", "labelFont": "Liberation Sans", "labelFontSize": 16, "labelPadding": 13, "labelOverlap": false, "titleColor": "#000000", "titleFont": "Liberation Serif", "titleFontSize": 18, "titleFontWeight": "normal"},
    "legend": {"title": null, "symbolType": "stroke", "symbolSize": 576, "symbolStrokeWidth": 1.2, "labelFont": "Liberation Serif", "labelFontSize": 19, "labelColor": "#000000", "labelBaseline": "alphabetic", "labelOffset": 4, "rowPadding": 13, "padding": 0}
  }
}
